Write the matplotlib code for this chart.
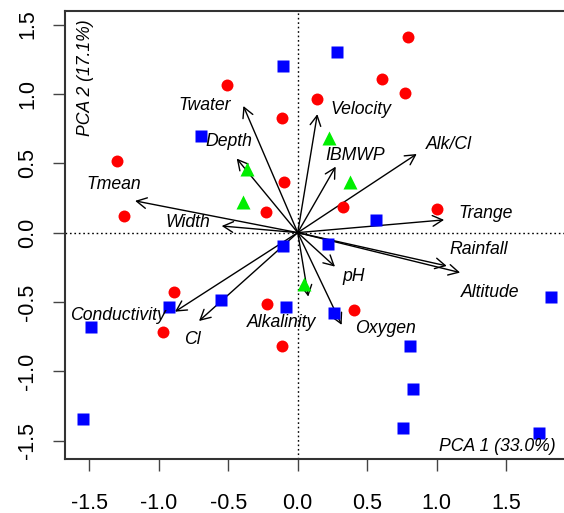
import matplotlib
matplotlib.use("Agg")
import matplotlib.pyplot as plt

plt.rcParams["font.family"] = ["Liberation Sans", "DejaVu Sans"]

# site scores, three groups
red_x = [-0.511, -0.115, -1.302, -0.099, -1.250, -0.228, 0.791, 0.606, 0.774,
         0.137, 0.324, 1.002, -0.890, -0.971, -0.223, -0.115, 0.405]
red_y = [1.065, 0.825, 0.519, 0.363, 0.120, 0.149, 1.413, 1.108, 1.005,
         0.964, 0.187, 0.171, -0.430, -0.714, -0.516, -0.817, -0.557]

blue_x = [-0.104, -0.698, -0.104, 0.281, 0.565, 0.216, -0.928, -0.550, -1.487,
          -1.542, -0.084, 1.820, 0.263, 0.808, 0.832, 0.760, 1.738]
blue_y = [1.204, 0.697, -0.096, 1.305, 0.092, -0.081, -0.534, -0.485, -0.682,
          -1.345, -0.534, -0.461, -0.577, -0.817, -1.129, -1.410, -1.446]

green_x = [-0.367, -0.396, 0.227, 0.376, 0.045]
green_y = [0.457, 0.224, 0.681, 0.363, -0.372]

# variable loadings (arrow tips) and label positions
var_names = ["Twater", "Depth", "Tmean", "Width", "Velocity", "IBMWP", "Alk/Cl",
             "Trange", "Rainfall", "Altitude", "pH", "Alkalinity", "Oxygen",
             "Conductivity", "Cl"]
arrow_x = [-0.391, -0.439, -1.170, -0.547, 0.141, 0.273, 0.856,
           1.053, 1.072, 1.168, 0.268, 0.076, 0.316, -0.883, -0.710]
arrow_y = [0.913, 0.534, 0.229, 0.048, 0.854, 0.476, 0.567,
           0.092, -0.240, -0.288, -0.245, -0.461, -0.665, -0.570, -0.637]
label_x = [-0.667, -0.492, -1.327, -0.787, 0.455, 0.412, 1.088,
           1.352, 1.299, 1.383, 0.405, -0.113, 0.628, -1.291, -0.758]
label_y = [0.913, 0.656, 0.344, 0.072, 0.889, 0.555, 0.632,
           0.140, -0.125, -0.430, -0.317, -0.649, -0.689, -0.598, -0.774]

ticks = [-1.5, -1.0, -0.5, 0.0, 0.5, 1.0, 1.5]

fig = plt.figure(figsize=(5.64, 5.13), dpi=100)
ax = fig.add_axes([0.1158, 0.1047, 0.8949, 0.8739])

ax.axhline(0, color="black", ls=(0, (1.2, 2)), lw=1, zorder=1)
ax.axvline(0, color="black", ls=(0, (1.2, 2)), lw=1, zorder=1)

for ax_, ay_ in zip(arrow_x, arrow_y):
    ax.annotate("", xy=(ax_, ay_), xytext=(0, 0),
                arrowprops=dict(arrowstyle="->,head_length=0.6,head_width=0.32",
                                lw=1, color="black", shrinkA=0, shrinkB=0,
                                mutation_scale=12), zorder=2)

ax.plot(red_x, red_y, "o", color="#ff0000", ms=8.6, mec="none", zorder=3)
ax.plot(blue_x, blue_y, "s", color="#0000ff", ms=8.0, mec="none", zorder=3)
ax.plot(green_x, green_y, "^", color="#00ee00", ms=10, mec="none", zorder=3)

for name, lx, ly in zip(var_names, label_x, label_y):
    ax.text(lx, ly, name, ha="center", va="center", style="italic",
            fontsize=12.7, zorder=4)

ax.text(1.858, -1.545, "PCA 1 (33.0%)", ha="right", va="center",
        style="italic", fontsize=12.7)
ax.text(-1.53, 1.54, "PCA 2 (17.1%)", ha="center", va="top", rotation=90,
        style="italic", fontsize=12.7)

ax.set_xlim(-1.672, 1.959)
ax.set_ylim(-1.634, 1.598)
ax.set_xticks(ticks)
ax.set_yticks(ticks)
ax.set_xticklabels([f"{t:.1f}" for t in ticks])
ax.set_yticklabels([f"{t:.1f}" for t in ticks], rotation=90, va="center")
ax.tick_params(axis="both", length=8.6, width=1, color="#444444",
               labelsize=15.5)
ax.tick_params(axis="x", pad=16)
ax.tick_params(axis="y", pad=11)
for s in ax.spines.values():
    s.set_linewidth(1.5)
    s.set_color("#333333")

fig.savefig("out.png", dpi=100)
